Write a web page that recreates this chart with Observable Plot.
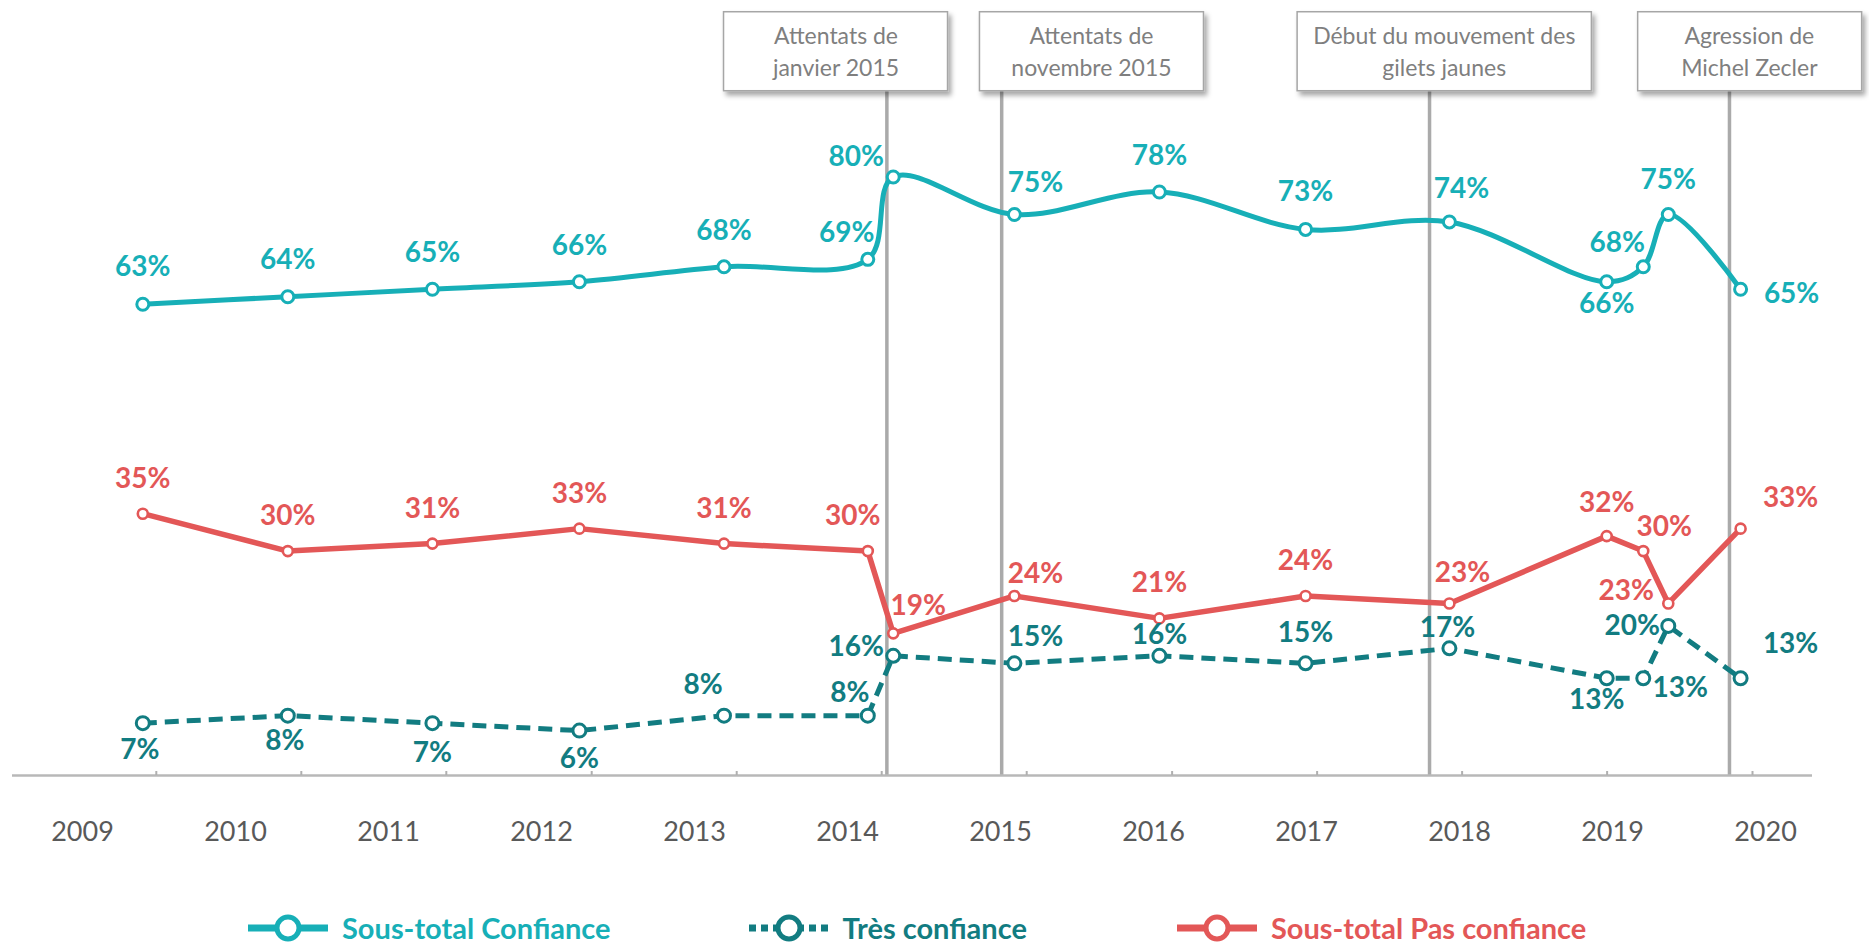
<!DOCTYPE html>
<html><head><meta charset="utf-8">
<script src="https://cdn.jsdelivr.net/npm/d3@7"></script>
<script src="https://cdn.jsdelivr.net/npm/@observablehq/plot@0.6"></script>
<style>
html,body{margin:0;padding:0;background:#fff;font-family:Lato,"Open Sans",sans-serif}
#wrap{position:relative;width:1869px;height:945px;overflow:hidden}
#chart svg,#years svg{display:block}
#legend{position:absolute;left:248px;top:911px;height:34px;display:flex;align-items:center}
.item{display:flex;align-items:center;gap:14px;font-weight:700;font-size:29px;line-height:34px;white-space:nowrap}
.item + .item{margin-left:138px}
.item:last-child{margin-left:150px}
.item svg{display:block}
</style></head><body>
<div id="wrap"><div id="chart"></div><div id="years"></div><div id="legend"></div></div>
<script>
// ---------------- data ----------------
const surveyDates = ["2009-11-28","2010-11-28","2011-11-27","2012-12-01","2013-11-30","2014-11-27","2015-01-30","2015-12-01","2016-11-30","2017-12-03","2018-11-30","2019-12-31","2020-04-01","2020-06-03","2020-12-02"];
const confiance     = [63,64,65,66,68,69,80,75,78,73,74,66,68,75,65];
const tresConfiance = [ 7, 8, 7, 6, 8, 8,16,15,16,15,17,13,13,20,13];
const pasConfiance  = [35,30,31,33,31,30,19,24,21,24,23,32,30,23,33];
const yearLabels = ["2009","2010","2011","2012","2013","2014","2015","2016","2017","2018","2019","2020"];
const eventDates  = ["2015-01-14","2015-10-30","2018-10-11","2020-11-04"];
const eventBoxAt  = ["2014-09-08","2016-06-12","2018-11-17","2020-12-24"];
const eventLabels = ["Attentats de\njanvier 2015","Attentats de\nnovembre 2015","Début du mouvement des\ngilets jaunes","Agression de\nMichel Zecler"];
const seriesNames = ["Sous-total Confiance","Très confiance","Sous-total Pas confiance"];

// ---------------- layout (label offsets in px: [dx, dy]) ----------------
const confLabelOff = [[0,-37],[0,-37],[0,-36],[0,-36],[0,-36],[-21,-26],[-37,-20],[21,-31],[0,-36],[0,-37],[12,-33],[0,22],[-26,-24],[0,-34],[51,5]];
const tresLabelOff = [[-3,27],[-3,25],[0,30],[0,28],[-21,-31],[-18,-23],[-37,-9],[21,-26],[0,-21],[0,-30],[-2,-20],[-10,22],[37,10],[-36,0],[50,-34]];
const pasLabelOff  = [[0,-35],[0,-35],[0,-35],[0,-35],[0,-35],[-15,-35],[25,-27],[21,-22],[0,-35],[0,-35],[13,-30],[0,-33],[21,-24],[-42,-12],[50,-31]];

const TEAL = "#17afb7", DARK = "#127c81", RED = "#e35757";
const parse = d3.utcParse("%Y-%m-%d");
const rows = surveyDates.map((d, i) => ({date: parse(d), conf: confiance[i], tres: tresConfiance[i], pas: pasConfiance[i]}));
const events = eventDates.map((d, i) => ({date: parse(d), boxAt: parse(eventBoxAt[i]), label: eventLabels[i]}));
const yearTicks = d3.utcYears(parse("2010-01-01"), parse("2021-01-02"));

const series = [
  {key: "pas", color: RED, off: pasLabelOff, width: 5.5, r: 5, sw: 2.6, dash: null, curve: "linear"},
  {key: "tres", color: DARK, off: tresLabelOff, width: 5, r: 6.5, sw: 3, dash: "14,8", curve: "linear"},
  {key: "conf", color: TEAL, off: confLabelOff, width: 5, r: 6, sw: 3, dash: null, curve: "catmull-rom"}
];

const marks = [
  Plot.ruleX(events, {x: "date", insetTop: 89, stroke: "#aaaaaa", strokeWidth: 3.5}),
  Plot.ruleY([0], {stroke: "#b8b8b8", strokeWidth: 2.5}),
  Plot.axisX(yearTicks, {anchor: "bottom", tickSize: 4, dy: -4, stroke: "#b0b0b0", strokeWidth: 2, tickFormat: () => ""})
];
for (const s of series) {
  marks.push(Plot.line(rows, {x: "date", y: s.key, stroke: s.color, strokeWidth: s.width, curve: s.curve, strokeDasharray: s.dash, strokeLinecap: "butt"}));
}
for (const s of series) {
  marks.push(Plot.dot(rows, {x: "date", y: s.key, r: s.r, fill: "white", stroke: s.color, strokeWidth: s.sw}));
}
for (const s of series) {
  rows.forEach((row, i) => {
    marks.push(Plot.text([row], {x: "date", y: s.key, text: d => d[s.key] + "%", dx: s.off[i][0], dy: s.off[i][1],
      fill: s.color, fontSize: 28, fontWeight: 700}));
  });
}
marks.push(Plot.text(events, {x: "boxAt", text: "label", frameAnchor: "top", dy: 49.5, lineAnchor: "middle",
  fill: "#7f7f7f", fontSize: 23, lineHeight: 1.39, className: "evt"}));

const chart = Plot.plot({
  width: 1869, height: 800,
  marginTop: 0, marginBottom: 25, marginLeft: 12, marginRight: 57,
  style: {fontFamily: "Lato, sans-serif", background: "white", overflow: "visible"},
  x: {type: "utc", domain: [parse("2009-01-04"), parse("2021-06-01")], axis: null},
  y: {domain: [0, 103.6], axis: null},
  marks
});
document.getElementById("chart").append(chart);

// event boxes drawn behind their labels
const ns = "http://www.w3.org/2000/svg";
const defs = document.createElementNS(ns, "defs");
defs.innerHTML = '<filter id="boxShadow" x="-20%" y="-30%" width="150%" height="170%"><feDropShadow dx="3" dy="4" stdDeviation="2.5" flood-color="#000" flood-opacity="0.35"/></filter>';
chart.insertBefore(defs, chart.firstChild);
const flat = eventLabels.map(l => l.replace(/\n/g, ""));
Array.from(chart.querySelectorAll("text")).filter(t => flat.includes(t.textContent)).forEach(t => {
  const b = t.getBBox();
  const w = Math.max(b.width + 32, 224), h = 79;
  const rect = document.createElementNS(ns, "rect");
  rect.setAttribute("x", b.x + b.width / 2 - w / 2);
  rect.setAttribute("y", b.y + b.height / 2 - h / 2);
  rect.setAttribute("width", w);
  rect.setAttribute("height", h);
  rect.setAttribute("fill", "white");
  rect.setAttribute("stroke", "#a6a6a6");
  rect.setAttribute("stroke-width", 1.5);
  rect.setAttribute("filter", "url(#boxShadow)");
  if (t.getAttribute("transform")) rect.setAttribute("transform", t.getAttribute("transform"));
  t.parentNode.insertBefore(rect, t);
});

// year labels row
const years = Plot.plot({
  width: 1869, height: 64, marginTop: 0, marginBottom: 0, marginLeft: 82, marginRight: 104,
  style: {fontFamily: "Lato, sans-serif", background: "white"},
  x: {type: "point", domain: yearLabels, padding: 0, axis: null},
  marks: [Plot.text(yearLabels, {x: d => d, frameAnchor: "middle", fontSize: 27, fill: "#595959"})]
});
document.getElementById("years").append(years);

// legend
const legend = d3.select("#legend");
[[seriesNames[0], TEAL, null], [seriesNames[1], DARK, "7,5"], [seriesNames[2], RED, null]].forEach(([name, color, dash]) => {
  const it = legend.append("div").attr("class", "item").style("color", color);
  const sv = it.append("svg").attr("width", 80).attr("height", 34);
  sv.append("line").attr("x1", 0).attr("x2", 80).attr("y1", 17).attr("y2", 17)
    .attr("stroke", color).attr("stroke-width", 7).attr("stroke-dasharray", dash);
  sv.append("circle").attr("cx", 40).attr("cy", 17).attr("r", 11).attr("fill", "white")
    .attr("stroke", color).attr("stroke-width", 5);
  it.append("span").text(name);
});
</script></body></html>
